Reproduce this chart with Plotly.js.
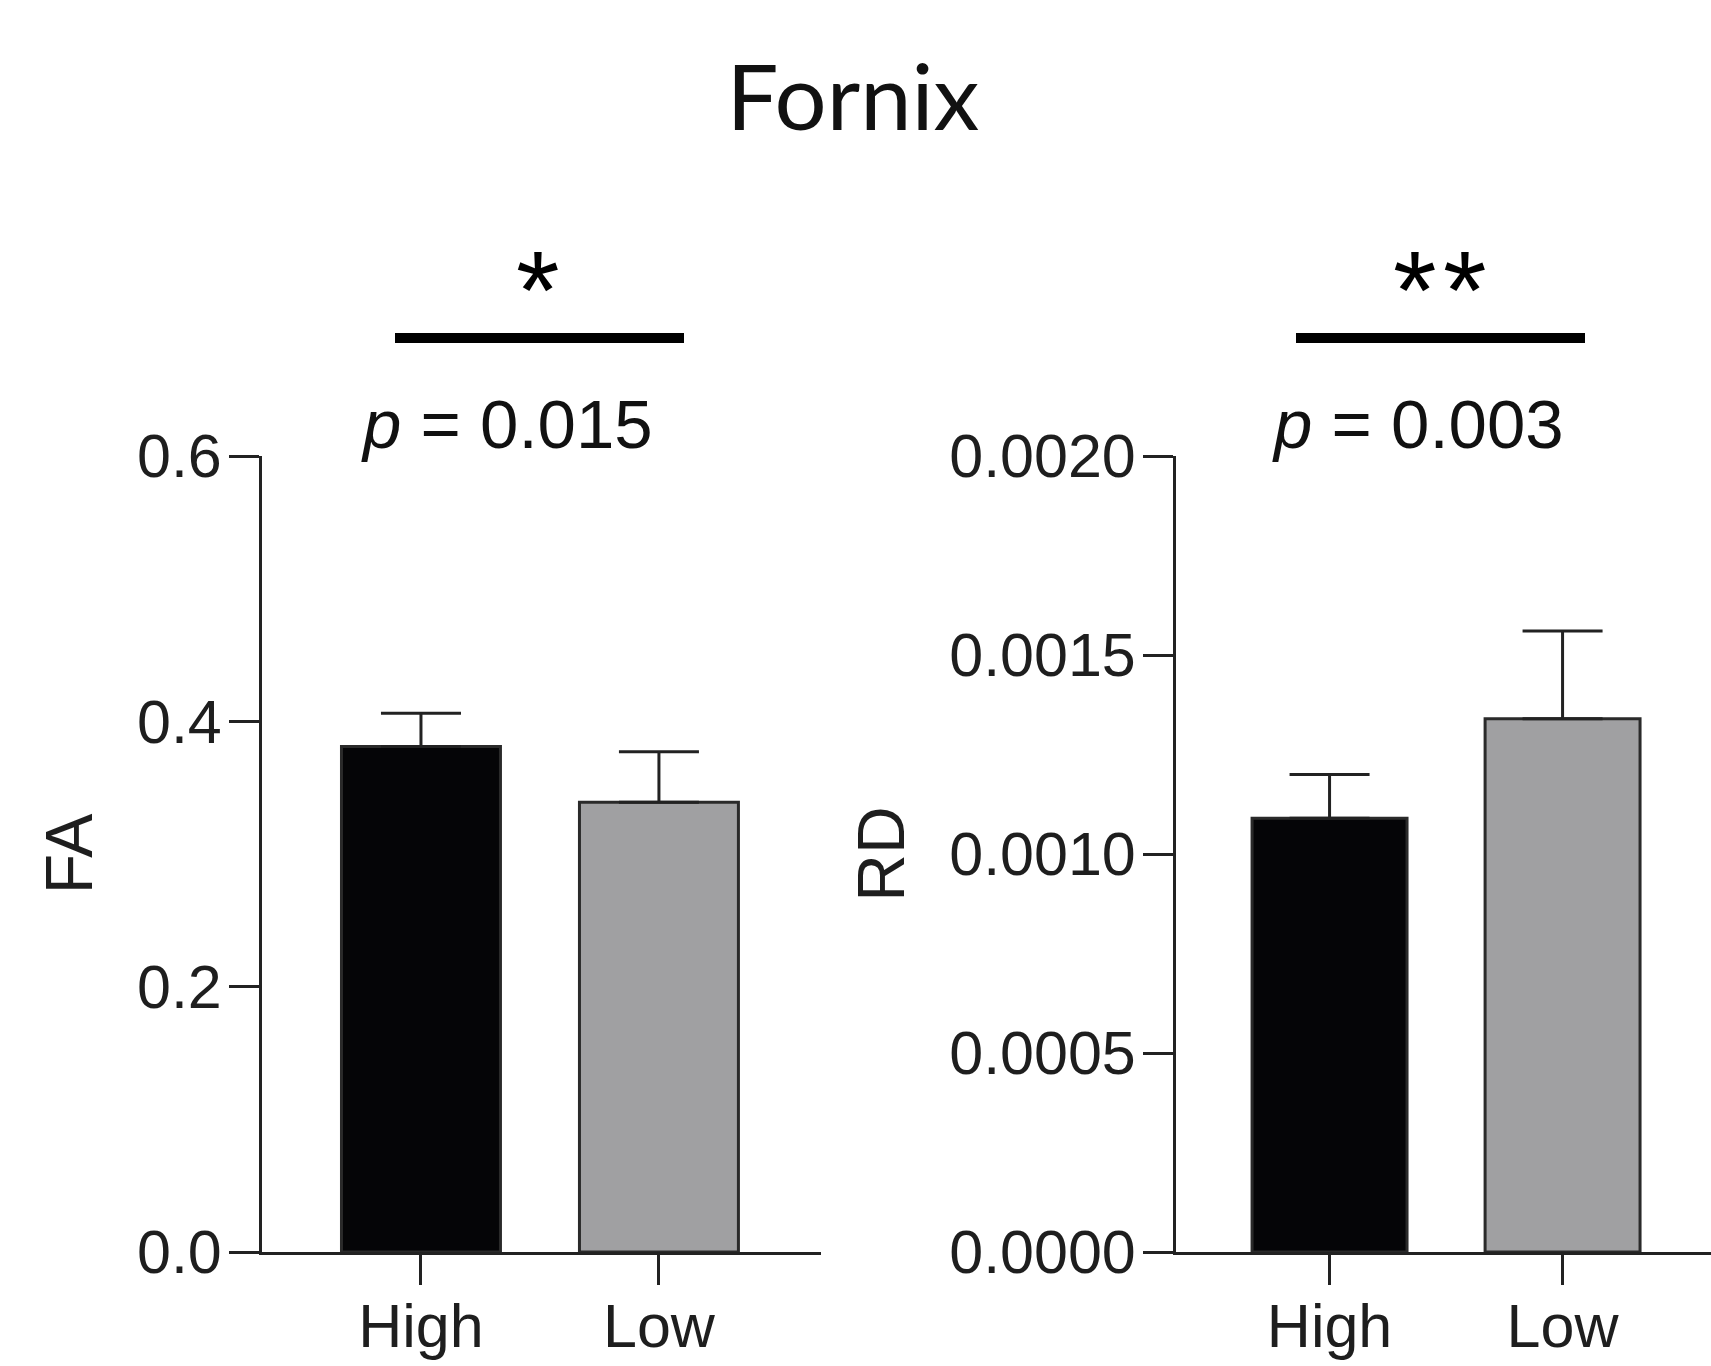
<!DOCTYPE html>
<html>
<head>
<meta charset="utf-8">
<script src="https://cdn.plot.ly/plotly-3.0.1.min.js"></script>
<style>
  html, body { margin: 0; padding: 0; background: #ffffff; overflow: hidden; }
  #chart { width: 1711px; height: 1366px; position: relative; }
  #arc { position: absolute; left: -260px; top: 1361px; width: 300px; height: 200px;
         border-radius: 50%; border-top: 5px solid #e8782a; pointer-events: none; }
</style>
</head>
<body>
<div id="chart"></div>
<div id="arc"></div>
<script>
// ---- data ----
const categories = ['High', 'Low'];
const faMean = [0.381, 0.339];
const faSem = [0.025, 0.038];
const rdMean = [0.00109, 0.00134];
const rdSem = [0.00011, 0.00022];
const pLabels = ['<i>p</i> = 0.015', '<i>p</i> = 0.003'];
const starLabels = ['*', '*', '*'];
const barColors = ['#050507', '#a0a0a2'];

const W = 1711, H = 1366;
const px = v => v / W;
const py = v => 1 - v / H;

const FONT = 'Liberation Sans, Arial, sans-serif';
const tickFont = { family: FONT, size: 61, color: '#1e1e1e' };
const axisColor = '#222222';

function barTrace(means, sems, xa, ya, w) {
  return {
    type: 'bar',
    x: categories,
    y: means,
    xaxis: xa, yaxis: ya,
    width: w,
    marker: { color: barColors, line: { color: '#2a2a2a', width: 3 } },
    error_y: { type: 'data', symmetric: false, array: sems, arrayminus: sems.map(() => 0),
               color: '#222222', thickness: 3, width: 40 },
    showlegend: false,
    hoverinfo: 'skip'
  };
}

const data = [
  barTrace(faMean, faSem, 'x', 'y', 0.668),
  barTrace(rdMean, rdSem, 'x2', 'y2', 0.665)
];

function xAxis(domain, range, anchor) {
  return {
    domain: domain, range: range, anchor: anchor, type: 'category',
    showline: true, linecolor: axisColor, linewidth: 3,
    ticks: 'outside', ticklen: 30, tickwidth: 3, tickcolor: axisColor,
    ticklabelstandoff: -11,
    tickfont: tickFont, showgrid: false, zeroline: false, fixedrange: true
  };
}
function yAxis(domain, range, dtick, fmt, title, anchor, standoff) {
  return {
    domain: domain, range: range, anchor: anchor,
    showline: true, linecolor: axisColor, linewidth: 3,
    ticks: 'outside', ticklen: 30, tickwidth: 3, tickcolor: axisColor,
    ticklabelstandoff: -5,
    tickmode: 'linear', tick0: 0, dtick: dtick, tickformat: fmt,
    tickfont: tickFont, showgrid: false, zeroline: false, fixedrange: true,
    title: { text: title, standoff: standoff,
             font: { family: FONT, size: 66, color: '#1e1e1e' } }
  };
}

const yDom = [py(1252), py(456)];
const starFont = { family: FONT, size: 112, color: '#000000' };
const pFont = { family: FONT, size: 69, color: '#111111' };

const layout = {
  width: W, height: H,
  margin: { l: 0, r: 0, t: 0, b: 0 },
  paper_bgcolor: '#ffffff', plot_bgcolor: '#ffffff',
  title: { text: 'Fornix', font: { family: 'Lato, Noto Sans, sans-serif', size: 92, color: '#111111' },
           x: px(853), xanchor: 'center', y: py(98), yanchor: 'middle' },
  xaxis: xAxis([px(262), px(821)], [-0.668, 1.681], 'y'),
  yaxis: yAxis(yDom, [0, 0.6], 0.2, '.1f', 'FA', 'x', 23),
  xaxis2: xAxis([px(1176), 1], [-0.659, 1.637], 'y2'),
  yaxis2: yAxis(yDom, [0, 0.002], 0.0005, '.4f', 'RD', 'x2', 24),
  bargap: 0,
  hovermode: false,
  shapes: [
    { type: 'line', xref: 'paper', yref: 'paper', x0: px(395), x1: px(684), y0: py(338), y1: py(338),
      line: { color: '#000000', width: 10 } },
    { type: 'line', xref: 'paper', yref: 'paper', x0: px(1296), x1: px(1585), y0: py(338), y1: py(338),
      line: { color: '#000000', width: 10 } }
  ],
  annotations: [
    { text: pLabels[0], xref: 'paper', yref: 'paper', x: px(359), y: py(424), xanchor: 'left', yanchor: 'middle',
      showarrow: false, font: pFont },
    { text: pLabels[1], xref: 'paper', yref: 'paper', x: px(1270), y: py(424), xanchor: 'left', yanchor: 'middle',
      showarrow: false, font: pFont },
    { text: starLabels[0], xref: 'paper', yref: 'paper', x: px(538), y: py(290), xanchor: 'center', yanchor: 'middle',
      showarrow: false, font: starFont },
    { text: starLabels[1], xref: 'paper', yref: 'paper', x: px(1415), y: py(290), xanchor: 'center', yanchor: 'middle',
      showarrow: false, font: starFont },
    { text: starLabels[2], xref: 'paper', yref: 'paper', x: px(1465), y: py(290), xanchor: 'center', yanchor: 'middle',
      showarrow: false, font: starFont }
  ]
};

Plotly.newPlot('chart', data, layout, { displayModeBar: false, staticPlot: true });
</script>
</body>
</html>
